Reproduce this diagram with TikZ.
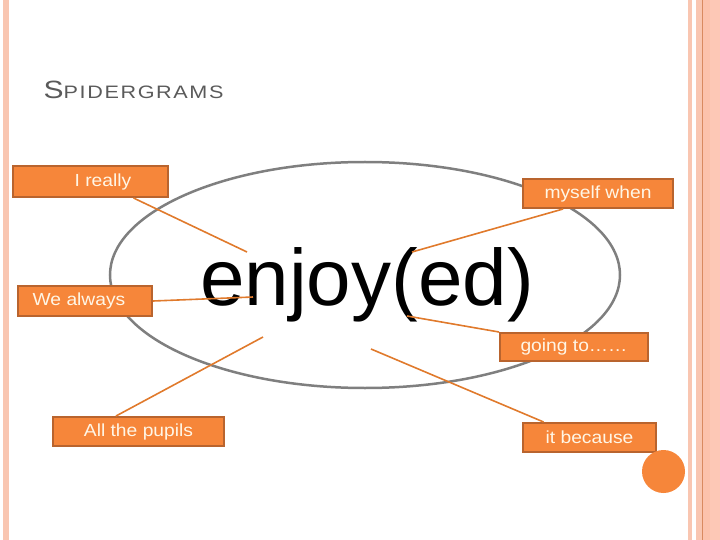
\documentclass[tikz,border=0pt]{standalone}
\usepackage{fontspec}
\setmainfont{Liberation Sans}
\newfontfamily\boxfont[FakeStretch=1.1]{Liberation Sans}
\newfontfamily\titlefont[FakeStretch=1.2,LetterSpace=9]{Liberation Sans}
\usetikzlibrary{calc}
\definecolor{peach}{HTML}{F9C6B1}
\definecolor{peachB}{HTML}{FCC2AC}
\definecolor{peachC}{HTML}{FDC8B6}
\definecolor{rimline}{HTML}{D98A60}
\definecolor{boxfill}{HTML}{F6863A}
\definecolor{boxedge}{HTML}{B9642E}
\definecolor{linkcol}{HTML}{E07A2C}
\definecolor{ringgray}{HTML}{7F7F7F}
\definecolor{titlegray}{HTML}{5A5A5A}
\definecolor{boxtext}{HTML}{FFF6E6}
\tikzset{
  wordbox/.style={draw=boxedge, line width=2pt, fill=boxfill, inner sep=0pt,
    text=boxtext, font=\boxfont\fontsize{17.5}{17.5}\selectfont},
  link/.style={draw=linkcol, line width=1.6pt},
}
\begin{document}
\begin{tikzpicture}[x=1pt,y=-1pt]
\useasboundingbox (0,0) rectangle (720,540);
% page borders
\fill[peach] (3,0) rectangle (9,540);
\fill[peach] (688,0) rectangle (692,540);
\fill[peach] (696,0) rectangle (702,540);
\fill[peachB] (703,0) rectangle (710,540);
\fill[peachC] (710,0) rectangle (720,540);
\fill[rimline] (702,0) rectangle (703,540);
% title
\node[anchor=base west, inner sep=0pt, text=titlegray] (title) at (43.5,98.5)
  {\titlefont\fontsize{25}{25}\selectfont S\fontsize{18}{18}\selectfont PIDERGRAMS};
% ellipse
\draw[ringgray, line width=2.5pt] (365,275) ellipse [x radius=255, y radius=113];
% central word
\node[anchor=base west, inner sep=0pt, font=\fontsize{80}{80}\selectfont] (enjoy) at (200,305) {enjoy(ed)};
% free ends of connectors
\coordinate (e1) at (247,252);
\coordinate (e2) at (253,297);
\coordinate (e3) at (412,252);
\coordinate (e4) at (407,316);
\coordinate (e5) at (263,337);
\coordinate (e6) at (371,349);
% boxes
\node[wordbox, minimum width=155pt, minimum height=31pt] (ireally) at (90.5,181.5) {\hspace*{25pt}\raisebox{-1pt}{I really}};
\node[wordbox, minimum width=134pt, minimum height=30pt] (wealways) at (85,301) {\raisebox{-1pt}{We always}\hspace*{12pt}};
\node[wordbox, minimum width=150pt, minimum height=29pt] (myself) at (598,193.5) {\raisebox{-1pt}{myself when}};
\node[wordbox, minimum width=148pt, minimum height=28pt] (goingto) at (574,347) {\raisebox{-1pt}{going to……}};
\node[wordbox, minimum width=171pt, minimum height=29pt] (pupils) at (138.5,431.5) {\raisebox{-1pt}{All the pupils}};
\node[wordbox, minimum width=133pt, minimum height=29pt] (because) at (589.5,437.5) {\raisebox{-1pt}{it because}};
% connectors
\draw[link] ($(ireally.south west)!0.774!(ireally.south east)$) -- (e1);
\draw[link] (wealways.east) -- (e2);
\draw[link] ($(myself.south west)!0.27!(myself.south east)$) -- (e3);
\draw[link] (goingto.north west) -- (e4);
\draw[link] ($(pupils.north west)!0.37!(pupils.north east)$) -- (e5);
\draw[link] ($(because.north west)!0.16!(because.north east)$) -- (e6);
% decorative dot
\fill[boxfill] (663.5,471.5) circle [radius=21.5];
\end{tikzpicture}
\end{document}
